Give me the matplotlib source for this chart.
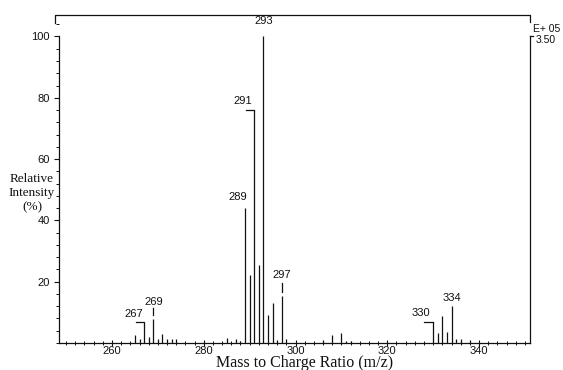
import matplotlib
matplotlib.use('Agg')
from matplotlib import pyplot as plt
from matplotlib.ticker import MultipleLocator, FixedLocator

# peak list (m/z, relative intensity %)
mz = [265, 266, 267, 268, 269, 270, 271, 272, 273, 274,
      285, 287, 288, 289, 290, 291, 292, 293, 294, 295, 296, 297, 298,
      306, 308, 310, 311, 312,
      330, 331, 332, 333, 334, 335, 336, 338]
intensity = [2.6, 1.2, 5.9, 2.1, 7.8, 1.3, 2.8, 1.2, 1.2, 1.2,
             1.5, 1.2, 0.5, 44.2, 22.1, 76.1, 25.3, 100.0, 9.1, 13.1, 1.0, 15.3, 1.2,
             1.0, 2.6, 3.2, 0.6, 0.5,
             6.7, 3.4, 8.8, 3.6, 12.2, 1.3, 1.3, 1.0]

labelled = [267, 269, 289, 291, 293, 297, 330, 334]
y_ticks = [20, 40, 60, 80, 100]
x_ticks = [260, 280, 300, 320, 340]
scale_text = ['E+ 05', '3.50']

sans = 'Liberation Sans'
serif = 'Liberation Serif'
ink = '#111111'

fig = plt.figure(figsize=(5.63, 3.70), dpi=100)
ax = fig.add_axes([59 / 563, 27 / 370, 471 / 563, 328 / 370])

peaks = dict(zip(mz, intensity))
ax.vlines(mz, 0, intensity, color=ink, lw=0.9)

x0, x1 = 248.45, 351.1
ax.set_xlim(x0, x1)
ax.set_ylim(0, 107)

# spines
ax.spines['top'].set_visible(False)
ax.spines['left'].set_bounds(0, 100)
ax.spines['right'].set_bounds(0, 100)
for s in ['left', 'right', 'bottom']:
    ax.spines[s].set_linewidth(0.9)
    ax.spines[s].set_color(ink)

# top bracket and right scale tick
ax.plot([x0 - 0.9, x0 - 0.9, x1, x1], [104.3, 107, 107, 104.6],
        color=ink, lw=0.9, clip_on=False)
ax.plot([x1, x1 + 0.7], [100, 100], color=ink, lw=0.9, clip_on=False)

# ticks
ax.yaxis.set_major_locator(FixedLocator(y_ticks))
ax.yaxis.set_minor_locator(MultipleLocator(4))
ax.xaxis.set_major_locator(FixedLocator(x_ticks))
ax.xaxis.set_minor_locator(MultipleLocator(2))
ax.tick_params(axis='y', which='major', direction='out', length=3.5, width=0.8,
               pad=3, labelsize=8, colors=ink)
ax.tick_params(axis='y', which='minor', direction='out', length=2, width=0.7, colors=ink)
ax.tick_params(axis='x', which='major', direction='inout', length=4, width=0.8,
               pad=0, labelsize=8, colors=ink)
ax.tick_params(axis='x', which='minor', direction='inout', length=3, width=0.7, colors=ink)
for lab in ax.get_xticklabels() + ax.get_yticklabels():
    lab.set_family(sans)

# peak labels
lab_kw = dict(fontsize=8, family=sans, color=ink, ha='center', va='center')
# centred straight above the bar
ax.text(293, 105.0, '293', **lab_kw)
ax.text(289 - 1.7, 47.6, '289', **lab_kw)
ax.text(334, 14.8, '334', **lab_kw)
# dashed leaders
for m, (lo, hi, ty) in {297: (16.7, 19.6, 22.3), 269: (9.0, 11.3, 13.5)}.items():
    ax.plot([m, m], [lo, hi], color=ink, lw=0.9)
    ax.text(m, ty, str(m), **lab_kw)
# bracket leaders
for m, (dx, by, ty) in {291: (1.9, 76.1, 78.8), 267: (1.8, 6.7, 9.3), 330: (2.1, 7.0, 9.8)}.items():
    h = peaks[m]
    ax.plot([m - dx, m, m], [by, by, min(h, by)], color=ink, lw=0.9)
    ax.text(m - dx - 0.5, ty, str(m), **lab_kw)

# axis titles
fig.text(305 / 563, 1 - 363 / 370, 'Mass to Charge Ratio (m/z)', family=serif,
         fontsize=11.5, ha='center', va='center', color=ink)
fig.text(32 / 563, 1 - 193 / 370, 'Relative\nIntensity\n(%)', family=serif,
         fontsize=9.5, ha='center', va='center', linespacing=1.25, color=ink)

# instrument scale at top right
fig.text(533 / 563, 1 - 29 / 370, scale_text[0], family=sans, fontsize=7.5,
         ha='left', va='center', color=ink)
fig.text(536 / 563, 1 - 40 / 370, scale_text[1], family=sans, fontsize=7.5,
         ha='left', va='center', color=ink)

fig.savefig('out.png', dpi=100)
